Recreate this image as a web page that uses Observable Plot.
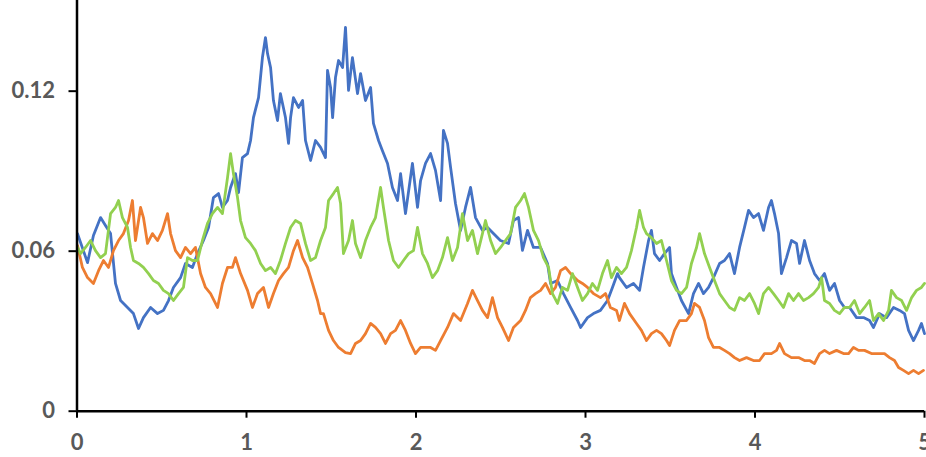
<!DOCTYPE html>
<html>
<head>
<meta charset="utf-8">
<script src="https://cdn.jsdelivr.net/npm/d3@7"></script>
<script src="https://cdn.jsdelivr.net/npm/@observablehq/plot@0.6"></script>
<style>
  html, body { margin: 0; padding: 0; background: #fff; overflow: hidden; }
  #chart svg { display: block; }
</style>
</head>
<body>
<div id="chart"></div>
<script>
// Tick labels
const xTicks = [0, 1, 2, 3, 4, 5];
const yTicks = [0, 0.06, 0.12];

// Series: [time, rate]
const blue = [
[0.003,0.0666],[0.062,0.0557],[0.097,0.0659],[0.139,0.0726],[0.168,0.0696],[0.198,0.0666],[0.227,0.0479],[0.257,0.0415],[0.298,0.0389],[0.333,0.0366],
[0.363,0.0310],[0.392,0.0351],[0.434,0.0389],[0.475,0.0366],[0.510,0.0378],[0.540,0.0415],[0.569,0.0464],[0.611,0.0501],[0.640,0.0554],[0.681,0.0539],
[0.711,0.0591],[0.746,0.0640],[0.776,0.0689],[0.805,0.0801],[0.835,0.0816],[0.858,0.0764],[0.888,0.0790],[0.906,0.0839],[0.935,0.0891],[0.953,0.0820],
[0.976,0.0951],[1.006,0.0966],[1.024,0.1015],[1.041,0.1101],[1.071,0.1176],[1.094,0.1326],[1.112,0.1401],[1.124,0.1341],[1.142,0.1289],[1.159,0.1165],
[1.183,0.1090],[1.200,0.1191],[1.230,0.1101],[1.248,0.1004],[1.260,0.1101],[1.277,0.1176],[1.307,0.1139],[1.331,0.1165],[1.348,0.1015],[1.378,0.0940],
[1.407,0.1015],[1.437,0.0989],[1.466,0.0951],[1.478,0.1278],[1.496,0.1214],[1.508,0.1101],[1.525,0.1251],[1.543,0.1315],[1.567,0.1289],[1.584,0.1439],
[1.602,0.1203],[1.625,0.1326],[1.655,0.1191],[1.673,0.1266],[1.702,0.1165],[1.732,0.1214],[1.749,0.1079],[1.779,0.1015],[1.802,0.0977],[1.832,0.0929],
[1.861,0.0839],[1.891,0.0790],[1.909,0.0891],[1.938,0.0741],[1.979,0.0929],[2.009,0.0764],[2.027,0.0865],[2.056,0.0929],[2.086,0.0966],[2.115,0.0903],
[2.145,0.0790],[2.162,0.1053],[2.186,0.1004],[2.204,0.0914],[2.233,0.0779],[2.263,0.0678],[2.292,0.0764],[2.322,0.0839],[2.351,0.0726],[2.392,0.0678],
[2.422,0.0689],[2.457,0.0666],[2.498,0.0640],[2.546,0.0629],[2.575,0.0715],[2.605,0.0726],[2.628,0.0603],[2.658,0.0678],[2.693,0.0614],[2.735,0.0614],
[2.776,0.0554],[2.794,0.0479],[2.835,0.0490],[2.870,0.0441],[2.912,0.0389],[2.953,0.0340],[2.971,0.0314],[3.012,0.0351],[3.047,0.0366],[3.088,0.0378],
[3.130,0.0415],[3.159,0.0464],[3.189,0.0516],[3.200,0.0501],[3.242,0.0464],[3.283,0.0479],[3.319,0.0453],[3.342,0.0539],[3.372,0.0640],[3.389,0.0678],
[3.407,0.0591],[3.437,0.0565],[3.466,0.0591],[3.496,0.0614],[3.507,0.0516],[3.537,0.0464],[3.566,0.0415],[3.608,0.0366],[3.637,0.0441],[3.667,0.0479],
[3.696,0.0441],[3.726,0.0464],[3.755,0.0501],[3.791,0.0554],[3.820,0.0565],[3.850,0.0591],[3.879,0.0516],[3.909,0.0614],[3.938,0.0689],[3.962,0.0753],
[3.991,0.0726],[4.021,0.0741],[4.050,0.0678],[4.080,0.0764],[4.097,0.0790],[4.115,0.0741],[4.139,0.0666],[4.156,0.0516],[4.186,0.0576],[4.215,0.0640],
[4.245,0.0629],[4.263,0.0554],[4.292,0.0640],[4.322,0.0565],[4.351,0.0516],[4.381,0.0490],[4.410,0.0516],[4.440,0.0453],[4.469,0.0479],[4.499,0.0415],
[4.528,0.0389],[4.558,0.0389],[4.599,0.0351],[4.640,0.0351],[4.676,0.0340],[4.699,0.0314],[4.735,0.0366],[4.776,0.0351],[4.817,0.0389],[4.853,0.0378],
[4.882,0.0366],[4.906,0.0303],[4.935,0.0265],[4.965,0.0303],[4.982,0.0329],[5.000,0.0291]
];

const orange = [
[0.003,0.0621],[0.032,0.0539],[0.062,0.0501],[0.097,0.0479],[0.127,0.0527],[0.156,0.0565],[0.186,0.0539],[0.215,0.0602],[0.245,0.0640],[0.274,0.0666],
[0.304,0.0715],[0.327,0.0790],[0.345,0.0640],[0.375,0.0764],[0.392,0.0726],[0.416,0.0629],[0.445,0.0666],[0.475,0.0640],[0.504,0.0678],[0.534,0.0741],
[0.552,0.0666],[0.581,0.0602],[0.611,0.0576],[0.640,0.0614],[0.670,0.0591],[0.699,0.0614],[0.729,0.0516],[0.758,0.0464],[0.788,0.0441],[0.829,0.0389],
[0.858,0.0479],[0.888,0.0539],[0.917,0.0539],[0.935,0.0576],[0.965,0.0516],[1.006,0.0453],[1.035,0.0389],[1.065,0.0441],[1.100,0.0464],[1.130,0.0389],
[1.159,0.0441],[1.189,0.0490],[1.218,0.0516],[1.248,0.0539],[1.277,0.0602],[1.301,0.0640],[1.331,0.0576],[1.360,0.0539],[1.389,0.0479],[1.419,0.0415],
[1.437,0.0366],[1.454,0.0366],[1.484,0.0303],[1.513,0.0265],[1.543,0.0239],[1.584,0.0220],[1.614,0.0216],[1.643,0.0254],[1.673,0.0265],[1.702,0.0291],
[1.732,0.0329],[1.761,0.0314],[1.791,0.0291],[1.820,0.0254],[1.850,0.0291],[1.879,0.0303],[1.909,0.0340],[1.938,0.0303],[1.968,0.0254],[1.997,0.0216],
[2.027,0.0239],[2.056,0.0239],[2.086,0.0239],[2.115,0.0228],[2.145,0.0265],[2.186,0.0314],[2.221,0.0366],[2.263,0.0340],[2.304,0.0404],[2.333,0.0453],
[2.363,0.0415],[2.392,0.0378],[2.422,0.0351],[2.451,0.0426],[2.481,0.0351],[2.510,0.0314],[2.546,0.0265],[2.575,0.0314],[2.617,0.0340],[2.646,0.0378],
[2.675,0.0426],[2.705,0.0441],[2.735,0.0453],[2.764,0.0479],[2.794,0.0441],[2.823,0.0464],[2.853,0.0527],[2.882,0.0539],[2.912,0.0516],[2.953,0.0490],
[2.982,0.0479],[3.012,0.0464],[3.047,0.0441],[3.088,0.0426],[3.118,0.0441],[3.147,0.0389],[3.183,0.0378],[3.200,0.0340],[3.230,0.0404],[3.260,0.0366],
[3.301,0.0329],[3.330,0.0303],[3.360,0.0265],[3.389,0.0291],[3.419,0.0303],[3.448,0.0291],[3.478,0.0265],[3.496,0.0246],[3.525,0.0303],[3.555,0.0340],
[3.596,0.0340],[3.625,0.0366],[3.643,0.0404],[3.673,0.0389],[3.702,0.0340],[3.726,0.0276],[3.755,0.0239],[3.791,0.0239],[3.820,0.0228],[3.850,0.0216],
[3.879,0.0201],[3.909,0.0190],[3.950,0.0201],[3.991,0.0190],[4.027,0.0190],[4.056,0.0216],[4.097,0.0216],[4.127,0.0228],[4.145,0.0254],[4.174,0.0216],
[4.215,0.0201],[4.257,0.0201],[4.292,0.0190],[4.322,0.0190],[4.351,0.0179],[4.381,0.0216],[4.410,0.0228],[4.440,0.0216],[4.481,0.0228],[4.522,0.0216],
[4.552,0.0216],[4.581,0.0239],[4.611,0.0228],[4.646,0.0228],[4.687,0.0216],[4.729,0.0216],[4.764,0.0216],[4.794,0.0201],[4.823,0.0190],[4.847,0.0164],
[4.876,0.0153],[4.906,0.0141],[4.935,0.0153],[4.965,0.0141],[4.994,0.0153]
];

const green = [
[0.003,0.0614],[0.021,0.0591],[0.050,0.0614],[0.080,0.0640],[0.109,0.0602],[0.139,0.0576],[0.168,0.0591],[0.198,0.0741],[0.227,0.0764],[0.245,0.0790],
[0.268,0.0726],[0.298,0.0689],[0.316,0.0614],[0.333,0.0565],[0.363,0.0554],[0.392,0.0539],[0.422,0.0516],[0.451,0.0490],[0.481,0.0479],[0.510,0.0453],
[0.540,0.0441],[0.569,0.0415],[0.599,0.0441],[0.628,0.0464],[0.652,0.0576],[0.681,0.0565],[0.711,0.0565],[0.740,0.0640],[0.770,0.0704],[0.799,0.0741],
[0.829,0.0764],[0.858,0.0741],[0.888,0.0876],[0.906,0.0966],[0.923,0.0891],[0.947,0.0801],[0.965,0.0715],[0.994,0.0651],[1.024,0.0629],[1.053,0.0602],
[1.083,0.0554],[1.112,0.0527],[1.142,0.0539],[1.171,0.0516],[1.200,0.0565],[1.230,0.0629],[1.260,0.0689],[1.289,0.0715],[1.319,0.0704],[1.348,0.0629],
[1.378,0.0565],[1.407,0.0576],[1.437,0.0640],[1.466,0.0689],[1.484,0.0790],[1.513,0.0816],[1.537,0.0839],[1.555,0.0779],[1.572,0.0591],[1.602,0.0640],
[1.625,0.0715],[1.643,0.0629],[1.673,0.0576],[1.702,0.0640],[1.732,0.0689],[1.761,0.0726],[1.791,0.0839],[1.808,0.0764],[1.838,0.0640],[1.867,0.0565],
[1.897,0.0539],[1.926,0.0565],[1.956,0.0591],[1.985,0.0602],[2.009,0.0689],[2.038,0.0591],[2.068,0.0554],[2.097,0.0501],[2.127,0.0527],[2.156,0.0576],
[2.186,0.0651],[2.215,0.0565],[2.245,0.0614],[2.274,0.0741],[2.304,0.0640],[2.333,0.0678],[2.363,0.0591],[2.392,0.0666],[2.410,0.0715],[2.440,0.0640],
[2.469,0.0591],[2.499,0.0614],[2.528,0.0640],[2.558,0.0666],[2.587,0.0764],[2.617,0.0790],[2.640,0.0816],[2.664,0.0764],[2.693,0.0678],[2.723,0.0640],
[2.752,0.0576],[2.782,0.0539],[2.805,0.0441],[2.835,0.0404],[2.864,0.0464],[2.894,0.0453],[2.923,0.0516],[2.953,0.0464],[2.982,0.0415],[3.012,0.0441],
[3.041,0.0479],[3.071,0.0453],[3.100,0.0516],[3.130,0.0565],[3.153,0.0501],[3.183,0.0539],[3.212,0.0516],[3.242,0.0539],[3.271,0.0602],[3.301,0.0689],
[3.319,0.0753],[3.342,0.0689],[3.360,0.0666],[3.389,0.0651],[3.419,0.0629],[3.448,0.0640],[3.478,0.0565],[3.507,0.0490],[3.537,0.0453],[3.566,0.0441],
[3.596,0.0464],[3.625,0.0554],[3.655,0.0614],[3.673,0.0666],[3.702,0.0591],[3.732,0.0539],[3.761,0.0490],[3.791,0.0441],[3.820,0.0415],[3.850,0.0389],
[3.879,0.0378],[3.909,0.0426],[3.938,0.0415],[3.968,0.0441],[3.997,0.0404],[4.021,0.0366],[4.050,0.0441],[4.080,0.0464],[4.109,0.0441],[4.139,0.0415],
[4.168,0.0389],[4.198,0.0441],[4.227,0.0415],[4.257,0.0441],[4.286,0.0415],[4.316,0.0426],[4.345,0.0441],[4.375,0.0464],[4.393,0.0501],[4.410,0.0415],
[4.440,0.0404],[4.469,0.0378],[4.499,0.0366],[4.528,0.0389],[4.558,0.0389],[4.587,0.0415],[4.617,0.0366],[4.646,0.0389],[4.676,0.0415],[4.699,0.0340],
[4.729,0.0366],[4.758,0.0340],[4.788,0.0378],[4.805,0.0453],[4.835,0.0426],[4.865,0.0415],[4.894,0.0378],[4.924,0.0426],[4.953,0.0453],[4.982,0.0464],
[5.000,0.0479]
];

const series = [
  {name: "Path 1", color: "#4472C4", points: blue},
  {name: "Path 2", color: "#ED7D31", points: orange},
  {name: "Path 3", color: "#92D050", points: green}
];

const labelStyle = {fontFamily: "Lato, 'Open Sans', sans-serif", fontWeight: "bold", fontSize: 22, fill: "#595959"};

const chart = Plot.plot({
  width: 926,
  height: 457,
  marginLeft: 76.5,
  marginRight: 2,
  marginTop: 0,
  marginBottom: 46.3,
  style: {fontFamily: "Lato, 'Open Sans', sans-serif", background: "#ffffff", overflow: "visible"},
  x: {domain: [0, 5]},
  y: {domain: [0, 0.154]},
  marks: [
    ...series.map(s => Plot.line(s.points, {x: d => d[0], y: d => d[1], stroke: s.color, strokeWidth: 2.8, strokeLinejoin: "round"})),
    Plot.axisY({ticks: yTicks, tickSize: 8, tickPadding: 14, tickFormat: d => String(d), stroke: "#000", strokeWidth: 2, strokeOpacity: 1, ...labelStyle, label: null}),
    Plot.axisX({ticks: xTicks, tickSize: 7, tickPadding: 16, tickFormat: d => String(d), stroke: "#000", strokeWidth: 2, strokeOpacity: 1, ...labelStyle, label: null}),
    Plot.ruleX([0], {stroke: "#000", strokeWidth: 2.5}),
    Plot.ruleY([0], {stroke: "#000", strokeWidth: 2.5})
  ]
});
document.getElementById("chart").appendChild(chart);
</script>
</body>
</html>
